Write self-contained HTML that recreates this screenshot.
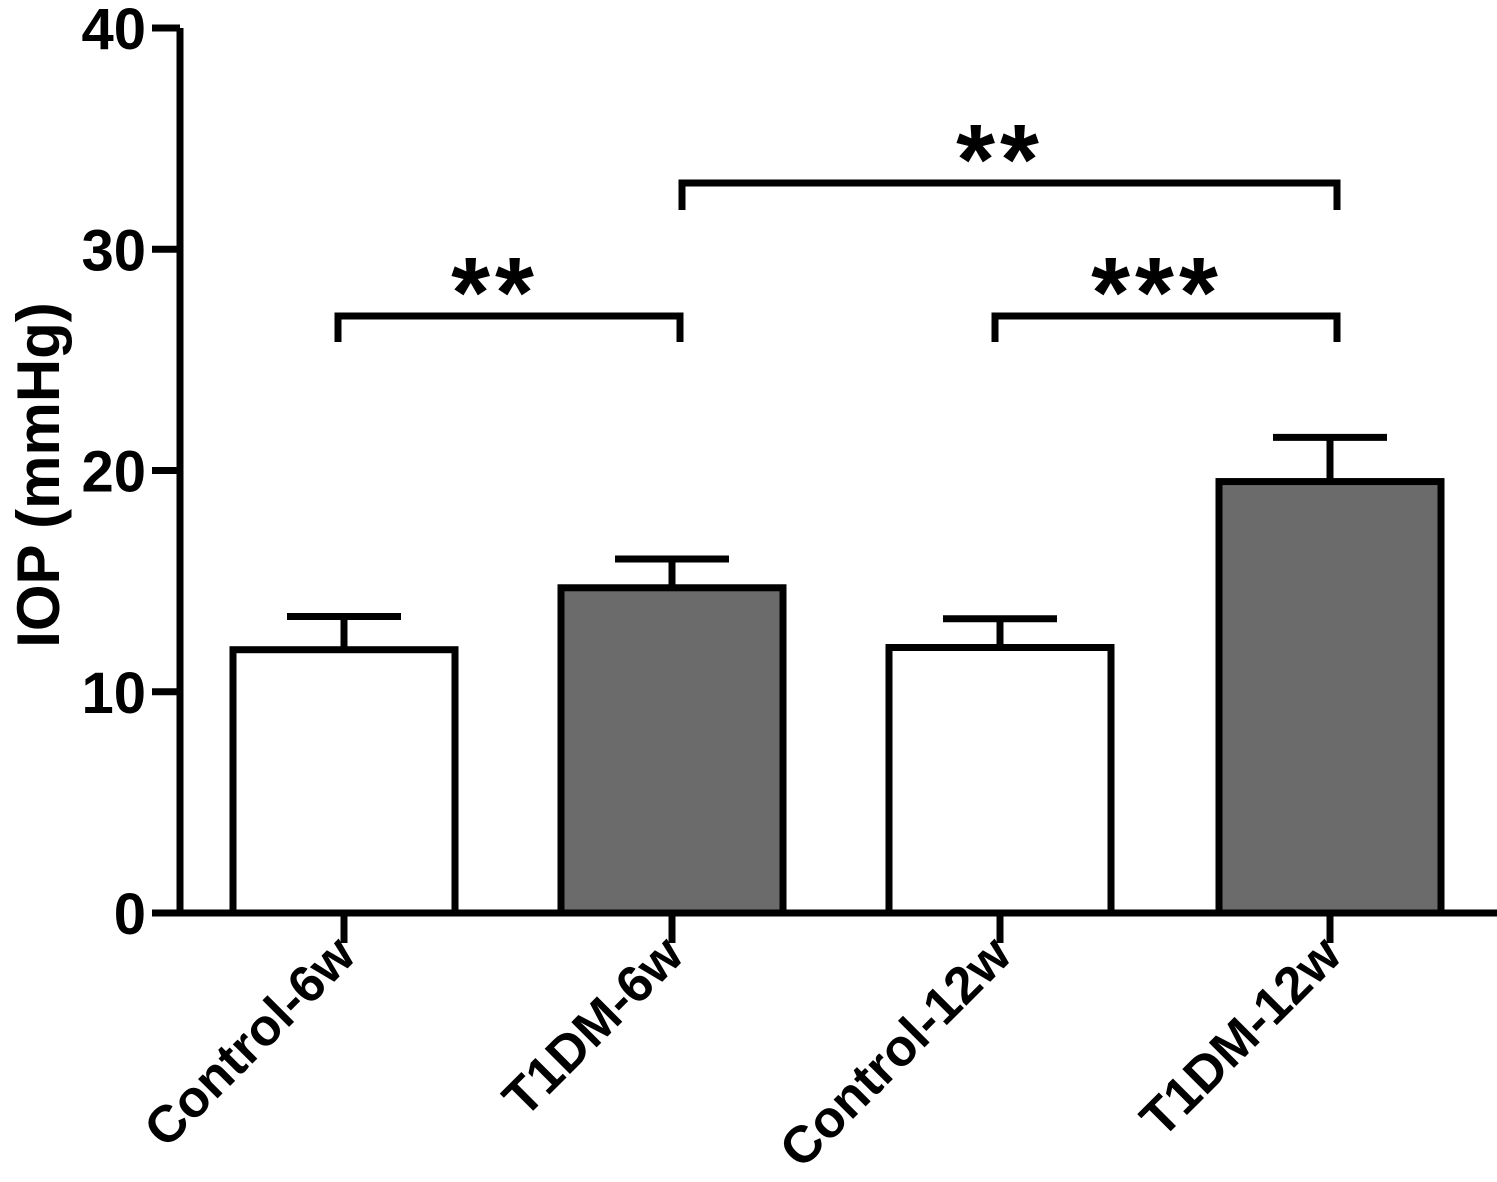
<!DOCTYPE html>
<html><head><meta charset="utf-8">
<style>
html,body{margin:0;padding:0;background:#fff;}
svg{display:block;}
text{font-family:"Liberation Sans",Arial,sans-serif;font-weight:bold;fill:#000;}
</style></head>
<body>
<svg id="chart" width="1497" height="1182" viewBox="0 0 1497 1182" xmlns="http://www.w3.org/2000/svg"></svg>
<script>
const categories = ["Control-6w","T1DM-6w","Control-12w","T1DM-12w"];
const meanValues = [11.9, 14.7, 12.0, 19.5];
const errorTops = [13.4, 16.0, 13.3, 21.5];
const barFills = ["#ffffff","#6b6b6b","#ffffff","#6b6b6b"];
const yTicks = [0,10,20,30,40];
const sigLabels = ["**","***","**"];

const NS="http://www.w3.org/2000/svg";
const svg=document.getElementById('chart');
const y0=913, pxPer=22.125;
function yScale(v){return y0 - v*pxPer;}
const centers=[344,672,1000,1330];
function xScale(i){return centers[i];}
const barW=222;
function mk(tag,attrs,parent){const e=document.createElementNS(NS,tag);for(const k in attrs)e.setAttribute(k,attrs[k]);(parent||svg).appendChild(e);return e;}

categories.forEach((c,i)=>{
  const cx=xScale(i);
  const top=yScale(meanValues[i]);
  const et=yScale(errorTops[i]);
  const g=mk('g',{});
  
  
  const eb=mk('path',{d:`M${cx},${top} L${cx},${et} M${cx-57},${et} L${cx+57},${et}`,stroke:'#000','stroke-width':7,fill:'none'},g);
  
  
  const r=mk('rect',{x:cx-barW/2,y:top,width:barW,height:y0-top,fill:barFills[i],stroke:'#000','stroke-width':7},g);
  
  
  const t=mk('line',{x1:cx,y1:y0,x2:cx,y2:943,stroke:'#000','stroke-width':7});
  
  
  const lx=cx+14, ly=958;
  const tx=mk('text',{x:0,y:0,'font-size':52,'text-anchor':'end',transform:`translate(${lx},${ly}) rotate(-45)`});
  tx.textContent=c;
  
  
});

const ya=mk('line',{x1:180,y1:y0+3,x2:180,y2:yScale(40),stroke:'#000','stroke-width':7});


const xa=mk('line',{x1:152,y1:y0,x2:1497,y2:y0,stroke:'#000','stroke-width':7});


yTicks.forEach(v=>{
  const y=yScale(v);
  const l=mk('line',{x1:152,y1:y,x2:180,y2:y,stroke:'#000','stroke-width':7});
  
  
  const t=mk('text',{x:146,y:y+21,'font-size':58,'text-anchor':'end'});
  t.textContent=v;
  
  
});
const yt=mk('text',{x:0,y:0,'font-size':60,'text-anchor':'middle',transform:'translate(59,475) rotate(-90)'});
yt.textContent='IOP (mmHg)';



const brackets=[[338,680,316,342],[995,1337,316,342],[682,1337,183,210]];
const starX=[495,1157,1000], starY=[327,327,194];
brackets.forEach((b,i)=>{
  const p=mk('path',{d:`M${b[0]},${b[3]} L${b[0]},${b[2]} L${b[1]},${b[2]} L${b[1]},${b[3]}`,stroke:'#000','stroke-width':7,fill:'none'});
  
  
  const s=mk('text',{x:starX[i],y:starY[i],'font-size':100,'text-anchor':'middle','letter-spacing':5});
  s.textContent=sigLabels[i];
  
  
});
</script>
</body></html>
